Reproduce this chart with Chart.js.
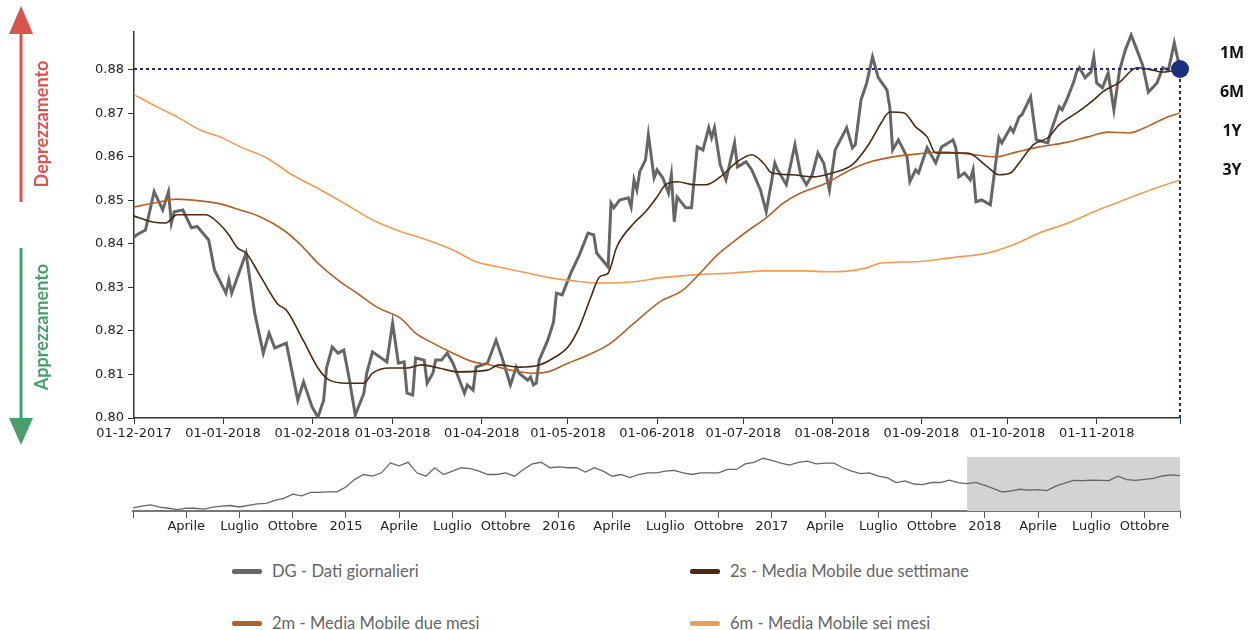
<!DOCTYPE html>
<html>
<head>
<meta charset="utf-8">
<script src="https://cdn.jsdelivr.net/npm/chart.js@4.4.1/dist/chart.umd.min.js"></script>
<style>
html,body{margin:0;padding:0;background:#fff;width:1250px;height:630px;overflow:hidden;font-family:"DejaVu Sans",sans-serif;}
canvas{position:absolute;left:0;}
#main{top:0;}
#nav{top:450px;}
.vt{position:absolute;white-space:nowrap;font-family:Lato,sans-serif;font-weight:bold;font-size:18px;transform:translate(-50%,-50%) rotate(-90deg);z-index:3;}
.rl{position:absolute;left:1232px;transform:translate(-50%,-50%);font-family:"Open Sans",sans-serif;font-weight:bold;font-size:16px;color:#111;z-index:3;}
#legend{position:absolute;left:0;top:0;z-index:3;}
.li{position:absolute;display:flex;align-items:center;font-family:Lato,sans-serif;font-size:16.6px;color:#666;white-space:nowrap;transform:translateY(-50%);}
.sw{width:30px;height:5px;border-radius:2px;margin-right:10px;}
svg{position:absolute;left:0;top:0;z-index:3;}
</style>
</head>
<body>
<canvas id="main" width="1250" height="450"></canvas>
<canvas id="nav" width="1250" height="90"></canvas>
<svg width="60" height="460">
  <line x1="21" y1="30" x2="21" y2="202" stroke="#d9534f" stroke-width="3"/>
  <polygon points="21,6 9,34 33,34" fill="#d9534f"/>
  <line x1="21" y1="248" x2="21" y2="420" stroke="#4a9d6c" stroke-width="3"/>
  <polygon points="21,445 9,418 33,418" fill="#4a9d6c"/>
</svg>
<div class="vt" style="left:41px;top:124px;color:#d9534f">Deprezzamento</div>
<div class="vt" style="left:41px;top:327px;color:#4a9d6c">Apprezzamento</div>
<div class="rl" style="top:52px">1M</div>
<div class="rl" style="top:91px">6M</div>
<div class="rl" style="top:130px">1Y</div>
<div class="rl" style="top:169px">3Y</div>
<div id="legend"></div>
<script>
// ---------- DATA ----------
const seriesNames = ['DG - Dati giornalieri','2s - Media Mobile due settimane','2m - Media Mobile due mesi','6m - Media Mobile sei mesi'];

// main chart: x = days since 01-12-2017
const xTickDays = [0,31,62,90,121,151,182,212,243,274,304,335,364];
const xTickLabels = ['01-12-2017','01-01-2018','01-02-2018','01-03-2018','01-04-2018','01-05-2018','01-06-2018','01-07-2018','01-08-2018','01-09-2018','01-10-2018','01-11-2018',''];
const yTickValues = [0.80,0.81,0.82,0.83,0.84,0.85,0.86,0.87,0.88];

const dgDays = [0,1,4,7,10,12,13,14,17,20,
22,26,28,32,33,34,39,42,45,47,
49,53,57,59,62,64,66,67,69,71,
73,75,77,80,81,83,88,90,92,94,
95,97,98,101,102,104,105,107,109,111,
115,116,118,119,123,126,128,131,133,134,
137,138,139,140,141,144,146,147,149,152,
155,158,160,161,165,166,167,169,172,173,
174,175,176,178,179,181,182,184,186,187,
188,189,192,194,196,198,200,201,202,204,
206,209,210,213,215,218,220,223,224,227,
230,232,234,236,238,240,242,244,248,250,
251,253,255,257,259,262,263,264,266,269,
270,272,273,276,279,281,285,286,287,289,
291,292,293,295,298,301,302,305,306,308,
309,312,314,318,319,322,323,325,327,328,
329,331,333,334,335,337,339,341,343,345,
347,349,351,353,356,358,360,362,364];
const dgValues = [0.8416,0.8421,0.8432,0.8520,0.8478,0.8520,0.8448,0.8474,0.8478,0.8437,
0.8440,0.8409,0.8340,0.8287,0.8317,0.8287,0.8379,0.8241,0.8149,0.8195,
0.8161,0.8172,0.8041,0.8083,0.8025,0.8002,0.8041,0.8115,0.8163,0.8149,
0.8156,0.8087,0.8007,0.8057,0.8103,0.8152,0.8129,0.8218,0.8126,0.8129,
0.8057,0.8053,0.8138,0.8133,0.8080,0.8103,0.8133,0.8133,0.8149,0.8126,
0.8057,0.8076,0.8064,0.8117,0.8126,0.8179,0.8140,0.8076,0.8117,0.8103,
0.8087,0.8094,0.8076,0.8080,0.8133,0.8179,0.8221,0.8287,0.8283,0.8333,
0.8375,0.8425,0.8421,0.8379,0.8347,0.8494,0.8483,0.8501,0.8506,0.8485,
0.8547,0.8524,0.8566,0.8593,0.8651,0.8552,0.8570,0.8552,0.8517,0.8559,
0.8451,0.8508,0.8483,0.8483,0.8623,0.8616,0.8667,0.8644,0.8667,0.8582,
0.8547,0.8632,0.8577,0.8589,0.8570,0.8524,0.8474,0.8586,0.8570,0.8536,
0.8628,0.8559,0.8536,0.8559,0.8609,0.8586,0.8524,0.8616,0.8667,0.8621,
0.8628,0.8731,0.8770,0.8830,0.8782,0.8754,0.8715,0.8616,0.8639,0.8600,
0.8543,0.8570,0.8563,0.8621,0.8586,0.8623,0.8639,0.8621,0.8554,0.8563,
0.8547,0.8570,0.8497,0.8501,0.8490,0.8644,0.8632,0.8667,0.8657,0.8692,
0.8697,0.8738,0.8639,0.8632,0.8657,0.8715,0.8708,0.8738,0.8772,0.8795,
0.8805,0.8782,0.8795,0.8830,0.8770,0.8759,0.8793,0.8708,0.8800,0.8846,
0.8880,0.8846,0.8811,0.8749,0.8770,0.8805,0.8800,0.8862,0.8802];

const s2Days = [0,6,11,15,25,30,33,36,39,44,50,53,59,64,68,74,80,83,89,95,100,106,113,123,127,134,141,146,151,155,159,162,165,168,174,178,182,185,189,195,199,204,210,215,219,222,229,236,243,250,256,260,263,268,272,276,279,290,297,301,305,308,313,318,322,328,334,337,343,349,354,358,364];
const s2Values = [0.8464,0.8451,0.8448,0.8467,0.8467,0.8444,0.8421,0.8391,0.8379,0.8326,0.8262,0.8248,0.8177,0.8115,0.8087,0.8080,0.8080,0.8103,0.8115,0.8115,0.8122,0.8115,0.8106,0.8110,0.8122,0.8117,0.8122,0.8138,0.8163,0.8209,0.8278,0.8324,0.8333,0.8393,0.8448,0.8474,0.8508,0.8536,0.8543,0.8536,0.8536,0.8554,0.8589,0.8605,0.8586,0.8563,0.8559,0.8554,0.8563,0.8582,0.8632,0.8678,0.8703,0.8701,0.8669,0.8646,0.8609,0.8609,0.8577,0.8559,0.8563,0.8586,0.8628,0.8644,0.8674,0.8701,0.8731,0.8749,0.8772,0.8805,0.8800,0.8795,0.8800];

const m2Days = [0,7,15,23,30,37,44,52,58,64,71,78,85,93,98,104,111,118,124,131,139,144,151,158,165,174,183,191,197,203,208,214,220,226,232,241,248,255,264,273,280,290,300,307,315,325,332,339,346,354,359,364];
const m2Values = [0.8485,0.8494,0.8503,0.8499,0.8492,0.8478,0.8462,0.8432,0.8398,0.8356,0.8317,0.8285,0.8253,0.8228,0.8195,0.8172,0.8149,0.8129,0.8122,0.8110,0.8103,0.8106,0.8126,0.8145,0.8168,0.8218,0.8267,0.8294,0.8333,0.8375,0.8402,0.8432,0.8460,0.8494,0.8517,0.8540,0.8566,0.8586,0.8600,0.8607,0.8611,0.8607,0.8600,0.8611,0.8623,0.8634,0.8646,0.8657,0.8655,0.8674,0.8690,0.8701];

const m6Days = [0,8,15,23,30,37,46,55,65,74,83,93,102,111,119,127,137,145,153,162,174,183,195,208,220,232,243,255,260,272,284,297,306,315,325,334,343,352,359,364];
const m6Values = [0.8743,0.8715,0.8692,0.8662,0.8646,0.8623,0.8598,0.8559,0.8524,0.8490,0.8455,0.8428,0.8409,0.8386,0.8359,0.8347,0.8333,0.8322,0.8315,0.8310,0.8313,0.8322,0.8329,0.8333,0.8338,0.8338,0.8336,0.8345,0.8356,0.8359,0.8368,0.8379,0.8398,0.8425,0.8448,0.8474,0.8497,0.8520,0.8536,0.8547];

// navigator: semi-monthly values from Jan 2014 (x = months since 01-01-2014)
const navValues = [
0.727,0.735,0.741,0.730,0.725,0.719,0.726,0.725,0.721,0.730,0.735,0.738,0.731,0.739,0.746,0.748,0.762,0.772,0.792,0.784,0.800,0.800,0.803,0.803,
0.826,0.862,0.885,0.877,0.893,0.940,0.926,0.943,0.893,0.877,0.917,0.885,0.901,0.917,0.913,0.901,0.885,0.885,0.893,0.877,0.909,0.935,0.943,0.917,
0.921,0.917,0.917,0.897,0.917,0.901,0.877,0.885,0.870,0.885,0.893,0.893,0.901,0.905,0.893,0.885,0.893,0.893,0.893,0.909,0.909,0.935,0.943,0.962,
0.952,0.939,0.930,0.943,0.948,0.935,0.939,0.939,0.917,0.901,0.889,0.893,0.877,0.870,0.847,0.855,0.840,0.837,0.847,0.847,0.858,0.847,0.842,0.848,
0.833,0.818,0.802,0.807,0.815,0.811,0.813,0.809,0.830,0.844,0.857,0.856,0.858,0.857,0.856,0.877,0.861,0.857,0.862,0.867,0.878,0.883,0.880];
const navTickMonths = [0,3,6,9,12,15,18,21,24,27,30,33,36,39,42,45,48,51,54,57,59];
const navTickLabels = ['','Aprile','Luglio','Ottobre','2015','Aprile','Luglio','Ottobre','2016','Aprile','Luglio','Ottobre','2017','Aprile','Luglio','Ottobre','2018','Aprile','Luglio','Ottobre',''];
const navWindow = [47, 59]; // selected range: 01-12-2017 .. 30-11-2018

// ---------- STYLE ----------
const colors = {dg:'#666666', s2:'#4b2a10', m2:'#b1622a', m6:'#f59a55', mark:'#1f2d6b', dot:'#1b2f80'};
Chart.defaults.font.family = 'DejaVu Sans';

const pts = (xs, ys) => xs.map((x, i) => ({x: x, y: ys[i]}));
const lastDay = dgDays[dgDays.length - 1];
const lastValue = dgValues[dgValues.length - 1];
const yMin = yTickValues[0];

new Chart(document.getElementById('main'), {
  type: 'line',
  data: { datasets: [
    {label:'last', data:[{x:lastDay,y:lastValue}], showLine:false, pointRadius:9, pointHoverRadius:9, pointBackgroundColor:colors.dot, pointBorderWidth:0, order:-2, clip:false},
    {label:'h', data:[{x:0,y:lastValue},{x:lastDay,y:lastValue}], borderColor:colors.mark, borderWidth:2, borderDash:[3,3], pointRadius:0, order:-1, clip:false},
    {label:'v', data:[{x:lastDay,y:yMin},{x:lastDay,y:lastValue}], borderColor:colors.mark, borderWidth:2, borderDash:[3,3], pointRadius:0, order:-1, clip:false},
    {label:seriesNames[1], data:pts(s2Days,s2Values), borderColor:colors.s2, borderWidth:1.6, pointRadius:0, cubicInterpolationMode:'monotone', order:1},
    {label:seriesNames[2], data:pts(m2Days,m2Values), borderColor:colors.m2, borderWidth:1.6, pointRadius:0, cubicInterpolationMode:'monotone', order:2},
    {label:seriesNames[3], data:pts(m6Days,m6Values), borderColor:colors.m6, borderWidth:1.6, pointRadius:0, cubicInterpolationMode:'monotone', order:3},
    {label:seriesNames[0], data:pts(dgDays,dgValues), borderColor:colors.dg, borderWidth:3, pointRadius:0, tension:0, order:4}
  ]},
  options: {
    responsive:false, animation:false, events:[],
    layout:{padding:{left:0,right:70,top:32,bottom:0}},
    plugins:{legend:{display:false}, tooltip:{enabled:false}},
    scales:{
      x:{type:'linear', min:0, max:364,
         afterBuildTicks:s=>{s.ticks = xTickDays.map(v=>({value:v}));},
         afterFit:s=>{s.height = 32;},
         ticks:{autoSkip:false, maxRotation:0, color:'#222', font:{size:13}, padding:2, callback:(v,i)=>xTickLabels[i]},
         grid:{drawOnChartArea:false, drawTicks:true, tickLength:6, color:'#333'},
         border:{display:true, color:'#333', width:1.5}},
      y:{min:0.80, max:0.8887,
         afterBuildTicks:s=>{s.ticks = yTickValues.map(v=>({value:v}));},
         afterFit:s=>{s.width = 134;},
         ticks:{color:'#222', font:{size:13}, padding:4, callback:v=>Number(v).toFixed(2)},
         grid:{drawOnChartArea:false, drawTicks:true, tickLength:6, color:'#333'},
         border:{display:true, color:'#333', width:1.5}}
    }
  }
});

const shade = {
  id:'shade',
  beforeDatasetsDraw(chart){
    const {ctx, chartArea, scales} = chart;
    const x0 = scales.x.getPixelForValue(navWindow[0]);
    const x1 = scales.x.getPixelForValue(navWindow[1]);
    ctx.save();
    ctx.fillStyle = '#d3d3d3';
    ctx.fillRect(x0, chartArea.top, x1 - x0, chartArea.bottom - chartArea.top);
    ctx.restore();
  }
};

new Chart(document.getElementById('nav'), {
  type:'line',
  data:{datasets:[{data:navValues.map((v,i)=>({x:i/2, y:v})), borderColor:'#666', borderWidth:1.3, pointRadius:0, tension:0}]},
  options:{
    responsive:false, animation:false, events:[],
    layout:{padding:{left:133,right:70,top:7,bottom:0}},
    plugins:{legend:{display:false}, tooltip:{enabled:false}},
    scales:{
      x:{type:'linear', min:0, max:59,
         afterBuildTicks:s=>{s.ticks = navTickMonths.map(v=>({value:v}));},
         afterFit:s=>{s.height = 29;},
         ticks:{autoSkip:false, maxRotation:0, color:'#222', font:{size:13}, padding:1, callback:(v,i)=>navTickLabels[i]},
         grid:{drawOnChartArea:false, drawTicks:true, tickLength:7, color:'#555'},
         border:{display:true, color:'#777', width:2}},
      y:{display:false, min:0.712, max:0.968}
    }
  },
  plugins:[shade]
});

// legend
const legendColors = [colors.dg, colors.s2, colors.m2, colors.m6];
const legendPos = [[232,571],[690,571],[232,623],[690,623]];
const lg = document.getElementById('legend');
seriesNames.forEach((n,i)=>{
  const d = document.createElement('div');
  d.className = 'li';
  d.style.left = legendPos[i][0] + 'px';
  d.style.top = legendPos[i][1] + 'px';
  d.innerHTML = '<span class="sw" style="background:' + legendColors[i] + '"></span><span></span>';
  d.lastChild.textContent = n;
  lg.appendChild(d);
});
</script>
</body>
</html>
